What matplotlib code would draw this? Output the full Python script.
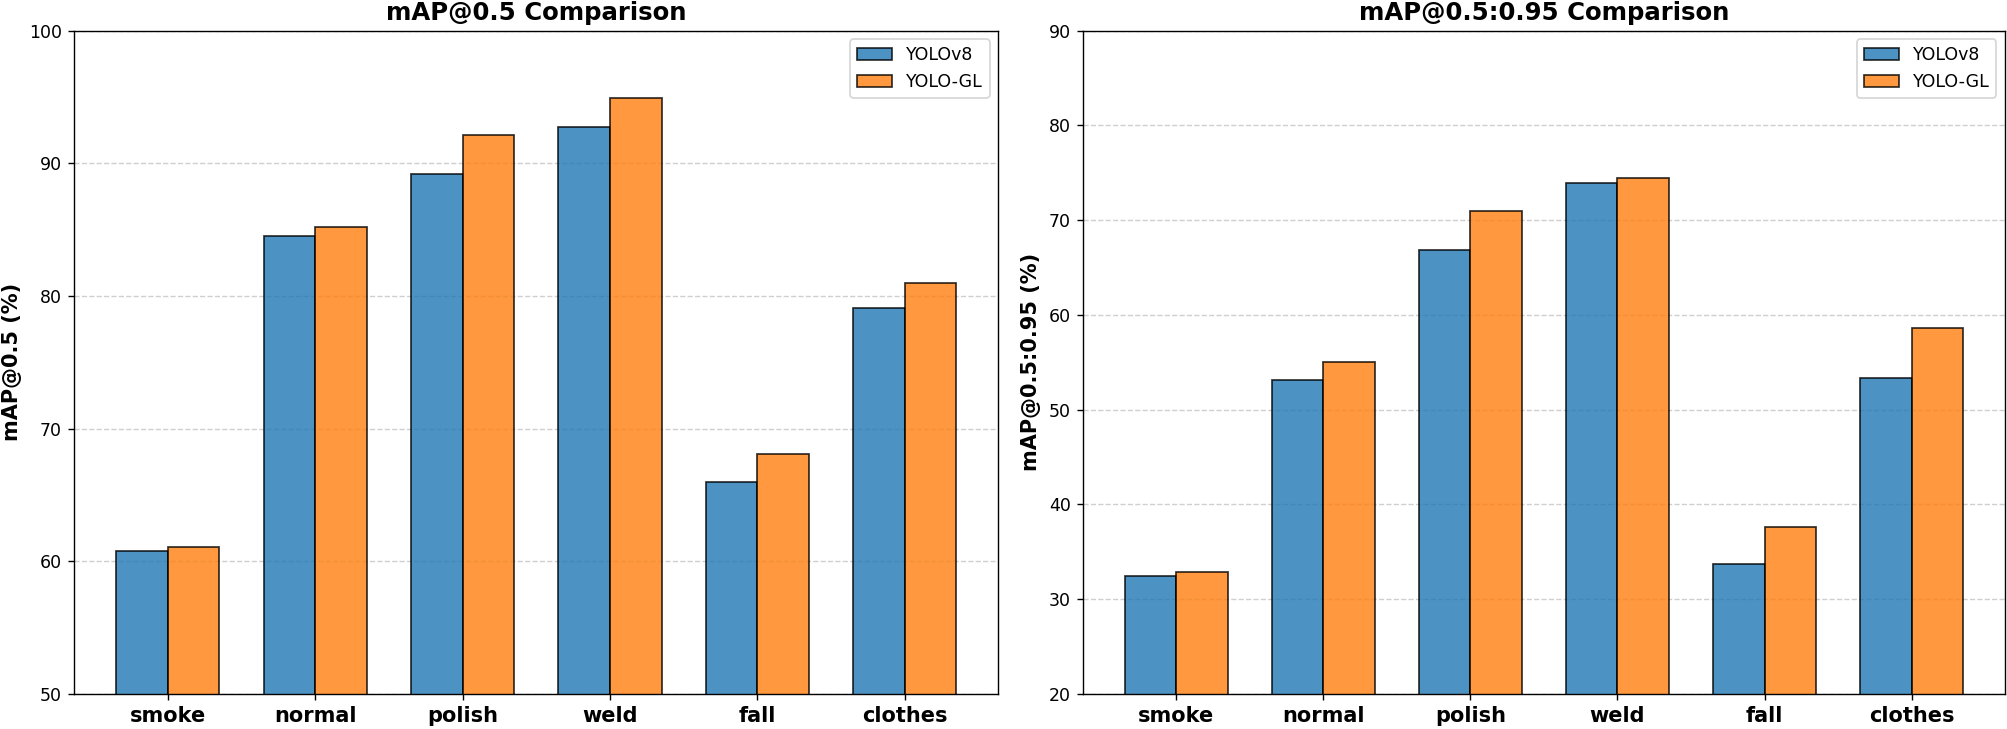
import numpy as np
import matplotlib.pyplot as plt

# datos
clases = ["smoke", "normal", "polish", "weld", "fall", "clothes"]
map50_v8 = [60.8, 84.5, 89.2, 92.7, 66.0, 79.1]
map50_gl = [61.1, 85.2, 92.1, 94.9, 68.1, 81.0]
map5095_v8 = [32.4, 53.1, 66.9, 73.9, 33.7, 53.3]
map5095_gl = [32.9, 55.0, 71.0, 74.4, 37.6, 58.6]

x = np.arange(len(clases))
w = 0.35

dpi = 125.44
fig = plt.figure(figsize=(2007/dpi, 729/dpi), dpi=dpi)
ax1 = fig.add_axes([0.037, 0.048, 0.4605, 0.910])
ax2 = fig.add_axes([0.5395, 0.048, 0.4595, 0.910])

paneles = [
    (ax1, map50_v8, map50_gl, "mAP@0.5 Comparison", "mAP@0.5 (%)", (50, 100)),
    (ax2, map5095_v8, map5095_gl, "mAP@0.5:0.95 Comparison", "mAP@0.5:0.95 (%)", (20, 90)),
]

for ax, v8, gl, titulo, ylab, lim in paneles:
    ax.bar(x - w/2, v8, w, label="YOLOv8", color="tab:blue", alpha=0.8,
           edgecolor="black", linewidth=1)
    ax.bar(x + w/2, gl, w, label="YOLO-GL", color="tab:orange", alpha=0.8,
           edgecolor="black", linewidth=1)
    ax.set_title(titulo, fontsize=14, fontweight="bold")
    ax.set_ylabel(ylab, fontsize=12, fontweight="bold")
    ax.set_xticks(x)
    ax.set_xticklabels(clases, fontsize=12, fontweight="bold")
    ax.set_ylim(*lim)
    ax.grid(axis="y", linestyle="--", alpha=0.6)
    ax.set_axisbelow(True)
    ax.legend(loc="upper right")

fig.savefig("out.png", dpi=dpi)
